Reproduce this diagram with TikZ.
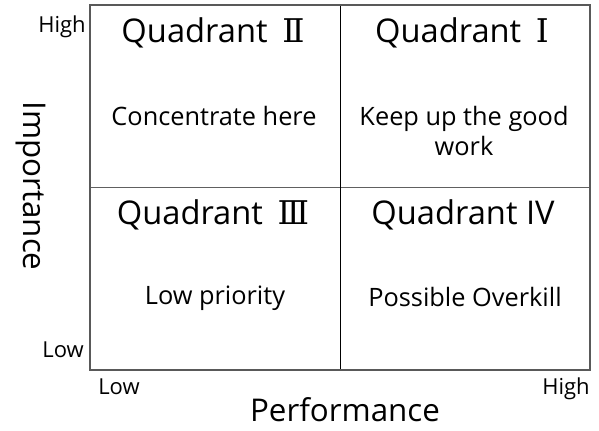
\documentclass[tikz,border=0pt]{standalone}
\usepackage{fontspec}
\setmainfont{Open Sans}
\newfontfamily\numfont{DejaVu Serif}
\newcommand{\quadnum}[1]{\hspace{0.45em}{\numfont #1}}
\begin{document}
\begin{tikzpicture}[x=0.75pt,y=-0.75pt,
  title/.style={font=\fontsize{24.5}{29}\selectfont, inner sep=0pt, anchor=center},
  note/.style={font=\fontsize{19}{22.5}\selectfont, inner sep=0pt, align=center, anchor=center},
  tick/.style={font=\fontsize{16.5}{19}\selectfont, inner sep=0pt},
  axis/.style={font=\fontsize{23.5}{27}\selectfont, inner sep=0pt, anchor=center}]
\useasboundingbox (0,0) rectangle (599,430);
% grid
\coordinate (tl) at (90,5);
\coordinate (br) at (590,370);
\draw[gray!75!black, line width=1.2pt] (90,187.5) -- (590,187.5);
\draw[black, line width=0.8pt] (340.5,5) -- (340.5,370);
\draw[gray!70!black, line width=0.9pt] (tl) rectangle (br);
% quadrant titles
\node[title] (q2) at (213,33) {Quadrant\quadnum{Ⅱ}};
\node[title] (q1) at (462,33) {Quadrant\quadnum{Ⅰ}};
\node[title] (q3) at (213,215) {Quadrant\quadnum{Ⅲ}};
\node[title] (q4) at (463,215) {Quadrant IV};
% quadrant notes
\node[note] (n2) at (214,116) {Concentrate here};
\node[note] (n1) at (464,131) {Keep up the good\\work};
\node[note] (n3) at (215,298) {Low priority};
\node[note] (n4) at (465,297) {Possible Overkill};
% axis ends
\node[tick, anchor=base east] (yhi) at (86,32) {High};
\node[tick, anchor=base east] (ylo) at (84,357) {Low};
\node[tick, anchor=base west] (xlo) at (98,394) {Low};
\node[tick, anchor=base east] (xhi) at (590,394) {High};
% axis titles
\node[axis] (xt) at (345,410) {Performance};
\node[axis, rotate=-90] (yt) at (31,186) {Importance};
\end{tikzpicture}
\end{document}
